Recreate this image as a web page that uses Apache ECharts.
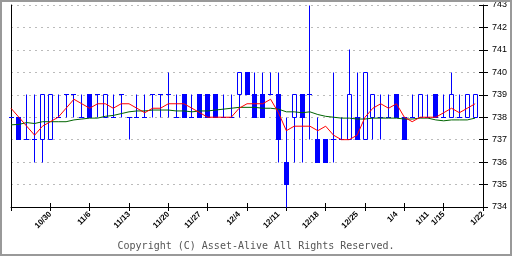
<!DOCTYPE html>
<html>
<head>
<meta charset="utf-8">
<script src="https://cdn.jsdelivr.net/npm/echarts@6/dist/echarts.min.js"></script>
<style>
html, body { margin: 0; padding: 0; background: #fff; }
#chart_main { width: 512px; height: 256px; }
</style>
</head>
<body>
<div id="chart_main"></div>
<script>
// trading days, last slot (1/22) has no candle yet
var dates = [
    '10/23', '10/24', '10/25', '10/26', '10/27',
    '10/30', '10/31', '11/1', '11/2', '11/3',
    '11/6', '11/7', '11/8', '11/9', '11/10',
    '11/13', '11/14', '11/15', '11/16', '11/17',
    '11/20', '11/21', '11/22', '11/24',
    '11/27', '11/28', '11/29', '11/30', '12/1',
    '12/4', '12/5', '12/6', '12/7', '12/8',
    '12/11', '12/12', '12/13', '12/14', '12/15',
    '12/18', '12/19', '12/20', '12/21', '12/22',
    '12/25', '12/26', '12/27', '12/28', '12/29',
    '1/4', '1/5', '1/9', '1/10',
    '1/11', '1/12',
    '1/15', '1/16', '1/17', '1/18', '1/19',
    '1/22'
];
var labelDates = ['10/30', '11/6', '11/13', '11/20', '11/27', '12/4', '12/11',
    '12/18', '12/25', '1/4', '1/11', '1/15', '1/22'];

var opens = [738, 738, 737, 737, 737, 737, 738, 739, 739, 738,
    739, 739, 738, 738, 739, 738, 738, 738, 739, 739,
    739, 738, 739, 738, 739, 739, 739, 738, 738, 739,
    740, 739, 739, 739, 739, 736, 738, 739, 739, 737,
    737, 737, 737, 737, 738, 737, 738, 738, 738, 739,
    738, 738, 738, 738, 739, 738, 738, 738, 738, 738];
var closes = [738, 737, 737, 737, 739, 739, 738, 739, 739, 738,
    738, 739, 739, 738, 739, 738, 738, 738, 739, 739,
    739, 738, 738, 738, 738, 738, 738, 738, 738, 740,
    739, 738, 738, 739, 737, 735, 739, 738, 739, 736,
    736, 737, 737, 739, 737, 740, 739, 738, 738, 738,
    737, 738, 739, 738, 738, 738, 739, 738, 739, 739];
var lows = [738, 737, 737, 736, 736, 737, 738, 738, 738, 738,
    738, 738, 738, 738, 738, 737, 738, 738, 738, 738,
    738, 738, 738, 738, 738, 738, 738, 738, 738, 738,
    739, 738, 738, 739, 736, 734, 736, 736, 737, 736,
    736, 736, 737, 737, 737, 737, 737, 737, 738, 738,
    737, 738, 738, 738, 738, 738, 738, 738, 738, 738];
var highs = [738, 738, 739, 739, 739, 739, 739, 739, 739, 739,
    739, 739, 739, 739, 739, 738, 739, 739, 739, 739,
    740, 739, 739, 739, 739, 739, 739, 739, 739, 740,
    740, 740, 740, 740, 740, 738, 739, 739, 743, 738,
    737, 740, 738, 741, 740, 740, 739, 739, 739, 739,
    738, 739, 739, 739, 739, 739, 740, 739, 739, 739];

// short (red) and long (green) moving averages
var maShort = [738.4, 738.0, 737.6, 737.2, 737.6, 737.8, 738.0, 738.4, 738.8, 738.6,
    738.4, 738.6, 738.6, 738.4, 738.6, 738.6, 738.4, 738.2, 738.4, 738.4,
    738.6, 738.6, 738.6, 738.4, 738.2, 738.0, 738.0, 738.0, 738.0, 738.4,
    738.6, 738.6, 738.6, 738.8, 738.2, 737.4, 737.6, 737.6, 737.6, 737.4,
    737.6, 737.2, 737.0, 737.0, 737.2, 738.0, 738.4, 738.6, 738.4, 738.6,
    738.0, 737.8, 738.0, 738.0, 738.0, 738.2, 738.4, 738.2, 738.4, 738.6];
var maLong = [737.66, 737.68, 737.76, 737.72, 737.8, 737.8, 737.8, 737.8, 737.88, 737.92,
    737.96, 737.96, 738.04, 738.08, 738.16, 738.24, 738.28, 738.28, 738.32, 738.32,
    738.32, 738.28, 738.28, 738.24, 738.28, 738.28, 738.32, 738.36, 738.4, 738.44,
    738.44, 738.44, 738.4, 738.4, 738.36, 738.24, 738.24, 738.2, 738.24, 738.12,
    738.04, 738.0, 737.96, 737.96, 737.92, 737.92, 737.96, 737.96, 737.96, 737.96,
    737.92, 737.92, 737.96, 737.96, 737.88, 737.84, 737.88, 737.88, 737.88, 737.96];

var yMin = 734, yMax = 743, yStep = 1;
var BLUE = '#0000ff';

var candles = [];
for (var i = 0; i < opens.length; i++) {
    candles.push([i, opens[i], closes[i], lows[i], highs[i]]);
}

// blue candles: hollow when up, filled when down, bar for doji
function renderCandle(params, api) {
    var idx = api.value(0);
    var o = api.value(1), c = api.value(2), lo = api.value(3), hi = api.value(4);
    var pO = api.coord([idx, o]);
    var pC = api.coord([idx, c]);
    var pL = api.coord([idx, lo]);
    var pH = api.coord([idx, hi]);
    var cx = Math.floor(pO[0]) + 0.5;
    var yTop = Math.floor(Math.min(pO[1], pC[1])) + 0.5;
    var yBot = Math.floor(Math.max(pO[1], pC[1])) + 0.5;
    var children = [];
    if (hi !== lo) {
        children.push({
            type: 'line',
            shape: { x1: cx, y1: Math.floor(pH[1]) + 0.5, x2: cx, y2: Math.floor(pL[1]) + 0.5 },
            style: { stroke: BLUE, lineWidth: 1 }
        });
    }
    if (o === c) {
        children.push({
            type: 'line',
            shape: { x1: cx - 2.5, y1: yTop, x2: cx + 2.5, y2: yTop },
            style: { stroke: BLUE, lineWidth: 1 }
        });
    } else if (c > o) {
        children.push({
            type: 'rect',
            shape: { x: cx - 2, y: yTop, width: 4, height: yBot - yTop },
            style: { fill: '#fff', stroke: BLUE, lineWidth: 1 }
        });
    } else {
        children.push({
            type: 'rect',
            shape: { x: cx - 2.5, y: yTop - 0.5, width: 5, height: yBot - yTop + 1 },
            style: { fill: BLUE }
        });
    }
    return { type: 'group', children: children };
}

var myChart = echarts.init(document.getElementById('chart_main'));
var option = {
    animation: false,
    backgroundColor: '#fff',
    grid: { left: 11, right: 29, top: 5, bottom: 49 },
    xAxis: [{
        type: 'category',
        data: dates,
        boundaryGap: false,
        axisLine: { lineStyle: { color: '#000', width: 1 } },
        axisTick: { interval: 4, length: 4, lineStyle: { color: '#000' } },
        axisLabel: {
            interval: function (idx, val) { return labelDates.indexOf(val) >= 0; },
            rotate: 45,
            margin: 6,
            fontSize: 8,
            fontWeight: 'bold',
            fontFamily: 'Liberation Sans',
            color: '#000'
        },
        splitLine: { show: false }
    }, {
        type: 'category',
        data: dates,
        boundaryGap: false,
        position: 'bottom',
        axisLine: { show: false },
        axisTick: { inside: true, interval: 4, length: 4, lineStyle: { color: '#000' } },
        axisLabel: { show: false },
        splitLine: { show: false }
    }],
    yAxis: [{
        type: 'value',
        position: 'right',
        min: yMin,
        max: yMax,
        interval: yStep,
        axisLine: { show: true, lineStyle: { color: '#000' } },
        axisTick: { show: true, length: 5, lineStyle: { color: '#000' } },
        axisLabel: { margin: 9, fontSize: 9, fontFamily: 'Liberation Sans', color: '#000' },
        splitLine: { show: true, lineStyle: { color: '#bbb', type: [2, 4] } }
    }, {
        type: 'value',
        position: 'right',
        min: yMin,
        max: yMax,
        interval: yStep,
        axisLine: { show: false },
        axisTick: { show: true, inside: true, length: 4, lineStyle: { color: '#000' } },
        axisLabel: { show: false },
        splitLine: { show: false }
    }, {
        type: 'value',
        position: 'left',
        min: yMin,
        max: yMax,
        interval: yStep,
        axisLine: { show: true, lineStyle: { color: '#000' } },
        axisTick: { show: false },
        axisLabel: { show: false },
        splitLine: { show: false }
    }],
    series: [{
        type: 'custom',
        data: candles,
        encode: { x: 0, y: [1, 2, 3, 4] },
        renderItem: renderCandle,
        silent: true
    }, {
        type: 'line',
        data: maLong,
        symbol: 'none',
        lineStyle: { color: '#006400', width: 1 }
    }, {
        type: 'line',
        data: maShort,
        symbol: 'none',
        lineStyle: { color: '#ff0000', width: 1 }
    }],
    graphic: [{
        type: 'text',
        left: 'center',
        top: 241,
        style: {
            text: 'Copyright (C) Asset-Alive All Rights Reserved.',
            fontSize: 10,
            fontFamily: 'DejaVu Sans Mono',
            fill: '#555'
        }
    }, {
        type: 'rect',
        silent: true,
        z: 100,
        shape: { x: 1, y: 1, width: 510, height: 254 },
        style: { fill: 'none', stroke: '#999', lineWidth: 2 }
    }]
};
myChart.setOption(option);
</script>
</body>
</html>
